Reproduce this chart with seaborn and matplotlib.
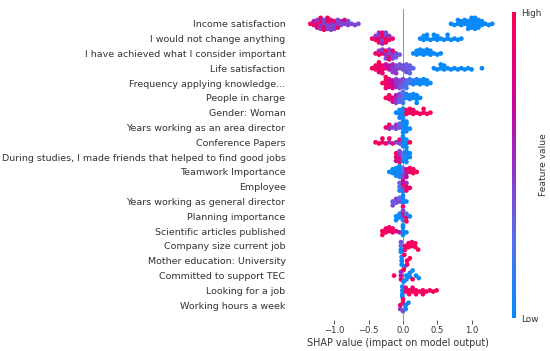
import numpy as np
import pandas as pd
import matplotlib
matplotlib.use("Agg")
import matplotlib.pyplot as plt
from matplotlib.colors import LinearSegmentedColormap, Normalize
from matplotlib.cm import ScalarMappable
import seaborn as sns

# feature names, top (most important) first
features = [
    "Income satisfaction",
    "I would not change anything",
    "I have achieved what I consider important",
    "Life satisfaction",
    "Frequency applying knowledge...",
    "People in charge",
    "Gender: Woman",
    "Years working as an area director",
    "Conference Papers",
    "During studies, I made friends that helped to find good jobs",
    "Teamwork Importance",
    "Employee",
    "Years working as general director",
    "Planning importance",
    "Scientific articles published",
    "Company size current job",
    "Mother education: University",
    "Committed to support TEC",
    "Looking for a job",
    "Working hours a week",
]

# (shap value, [feature values of the samples sitting at that shap value])
income = [
    (-1.35, [0.95]), (-1.30, [0.9, 0.6]), (-1.25, [0.95, 0.45, 0.8]),
    (-1.20, [0.5, 0.95, 0.45, 0.85]), (-1.15, [0.45, 0.9, 0.4, 0.95]),
    (-1.10, [0.4, 0.95, 0.45, 0.85]), (-1.05, [0.5, 0.4, 0.9, 0.45]),
    (-1.00, [0.4, 0.85, 0.45]), (-0.95, [0.45, 0.4, 0.9]), (-0.90, [0.4, 0.5]),
    (-0.85, [0.4, 0.8]), (-0.80, [0.45, 0.4]), (-0.75, [0.4]), (-0.70, [0.45]),
    (-0.65, [0.4]),
    (0.70, [0.02]), (0.75, [0.02]), (0.80, [0.02, 0.05]), (0.85, [0.02, 0.02]),
    (0.90, [0.02, 0.05]), (0.95, [0.02, 0.02, 0.02]), (1.00, [0.02, 0.02, 0.05, 0.02]),
    (1.05, [0.02, 0.02, 0.02, 0.02]), (1.10, [0.02, 0.05, 0.02]), (1.15, [0.02, 0.02]),
    (1.20, [0.02]), (1.25, [0.02]), (1.30, [0.02]),
]
wouldnt = [
    (-0.45, [0.9]), (-0.40, [0.95, 0.5]), (-0.35, [0.9, 0.4, 0.95, 0.5]),
    (-0.30, [0.4, 0.95, 0.5, 0.9]), (-0.25, [0.9, 0.45, 0.95, 0.4]),
    (-0.20, [0.95, 0.5]), (-0.15, [0.9]),
    (0.25, [0.02]), (0.30, [0.02, 0.02]), (0.35, [0.02, 0.02]), (0.40, [0.02]),
    (0.45, [0.02, 0.02]), (0.50, [0.02, 0.02]), (0.55, [0.02]), (0.60, [0.02]),
    (0.65, [0.02, 0.02]), (0.70, [0.02]), (0.75, [0.02]), (0.80, [0.02]),
    (0.85, [0.02]),
]
achieved = [
    (-0.40, [0.9]), (-0.35, [0.95, 0.5]), (-0.30, [0.9, 0.45]),
    (-0.25, [0.5, 0.95, 0.4]), (-0.20, [0.4, 0.9, 0.45, 0.95]),
    (-0.15, [0.45, 0.9, 0.4]), (-0.10, [0.4, 0.35]), (-0.05, [0.35]),
    (0.15, [0.02]), (0.20, [0.02, 0.02]), (0.25, [0.02, 0.05]), (0.30, [0.02, 0.02]),
    (0.35, [0.02, 0.02]), (0.40, [0.02, 0.02]), (0.45, [0.02]), (0.50, [0.02]),
    (0.55, [0.02]),
]
life = [
    (-0.45, [0.95]), (-0.40, [0.95, 0.9]), (-0.35, [0.9, 0.95, 0.85, 0.95]),
    (-0.30, [0.95, 0.9, 0.85]), (-0.25, [0.8, 0.65]), (-0.20, [0.6, 0.65]),
    (-0.15, [0.5, 0.55, 0.45]), (-0.10, [0.45, 0.4, 0.5]), (-0.05, [0.4, 0.35]),
    (0.00, [0.35, 0.4]), (0.05, [0.35, 0.3, 0.4]), (0.10, [0.3, 0.35, 0.3]),
    (0.15, [0.3]),
    (0.45, [0.02]), (0.50, [0.02]), (0.55, [0.02, 0.02]), (0.60, [0.02, 0.02]),
    (0.65, [0.02]), (0.70, [0.02]), (0.75, [0.02]), (0.80, [0.02]), (0.85, [0.02]),
    (0.90, [0.02]), (0.95, [0.02]), (1.00, [0.02]), (1.15, [0.02]),
]
freq = [
    (-0.30, [0.95]), (-0.25, [0.95, 0.9, 0.85, 0.95]), (-0.20, [0.85, 0.9, 0.8]),
    (-0.15, [0.7, 0.65, 0.75]), (-0.10, [0.5, 0.55, 0.45]), (-0.05, [0.4, 0.45, 0.35]),
    (0.00, [0.35, 0.3, 0.4]), (0.05, [0.25, 0.3, 0.2]), (0.10, [0.15, 0.2]),
    (0.15, [0.1, 0.1]), (0.20, [0.05, 0.1]), (0.25, [0.02, 0.05]),
    (0.30, [0.02, 0.02]), (0.35, [0.02, 0.02]), (0.40, [0.02]),
]
people = [
    (-0.25, [0.95]), (-0.20, [0.9, 0.95]), (-0.15, [0.85, 0.75]),
    (-0.10, [0.5, 0.6, 0.45]), (-0.05, [0.35, 0.4, 0.3]), (0.00, [0.2, 0.25, 0.15, 0.2]),
    (0.05, [0.1, 0.1]), (0.10, [0.05, 0.05]), (0.15, [0.02, 0.02]),
    (0.20, [0.02, 0.02, 0.02]), (0.25, [0.02]),
]
gender = [
    (-0.10, [0.02]), (-0.05, [0.02, 0.02, 0.05]), (0.00, [0.02, 0.02, 0.02, 0.05]),
    (0.05, [0.95, 0.9]), (0.10, [0.95, 0.95]), (0.15, [0.95, 0.9]), (0.20, [0.95]),
    (0.25, [0.95]), (0.30, [0.95, 0.95]), (0.35, [0.95]), (0.40, [0.95]),
]
area = [
    (-0.25, [0.9]), (-0.20, [0.5, 0.9]), (-0.15, [0.45]), (-0.10, [0.4, 0.5]),
    (-0.05, [0.35, 0.3]), (0.00, [0.05, 0.02, 0.02, 0.02]),
    (0.05, [0.02, 0.02, 0.02, 0.02]), (0.10, [0.02]),
]
conference = [
    (-0.40, [0.95]), (-0.35, [0.95]), (-0.30, [0.95, 0.9]), (-0.25, [0.9]),
    (-0.20, [0.5, 0.95]), (-0.15, [0.9]), (-0.10, [0.45]), (-0.05, [0.4, 0.9]),
    (0.00, [0.02, 0.02, 0.05, 0.02]), (0.05, [0.02, 0.02, 0.02]), (0.10, [0.95]),
]
studies = [
    (-0.10, [0.9, 0.65, 0.95]), (-0.05, [0.85, 0.5, 0.95, 0.4]),
    (0.00, [0.25, 0.02, 0.3]), (0.05, [0.02, 0.05, 0.02, 0.02]), (0.10, [0.02, 0.02]),
]
teamwork = [
    (-0.20, [0.02]), (-0.15, [0.02, 0.02]), (-0.10, [0.02, 0.02, 0.05]),
    (-0.05, [0.05, 0.02, 0.1, 0.02]), (0.00, [0.3, 0.4, 0.25, 0.35]),
    (0.05, [0.6, 0.75, 0.7]), (0.10, [0.9, 0.95]), (0.15, [0.95, 0.95]),
    (0.20, [0.95]),
]
employee = [
    (-0.05, [0.25, 0.05, 0.3]), (0.00, [0.4, 0.95, 0.15, 0.75]),
    (0.05, [0.95, 0.5, 0.9]), (0.10, [0.9]),
]
general = [
    (-0.15, [0.35, 0.4]), (-0.10, [0.35, 0.45]), (-0.05, [0.4, 0.3]),
    (0.00, [0.02, 0.02, 0.9, 0.02]), (0.05, [0.02]),
]
planning = [
    (-0.10, [0.02, 0.02]), (-0.05, [0.02, 0.05]), (0.00, [0.5, 0.9, 0.02, 0.4]),
    (0.05, [0.9, 0.25, 0.95]), (0.10, [0.02]),
]
scientific = [
    (-0.30, [0.95, 0.95]), (-0.25, [0.95, 0.9]), (-0.20, [0.95, 0.95]),
    (-0.15, [0.9, 0.95]), (-0.10, [0.85]), (-0.05, [0.65]),
    (0.00, [0.02, 0.02, 0.02, 0.02]), (0.05, [0.02]),
]
company = [
    (-0.03, [0.25, 0.02, 0.35, 0.02]), (0.03, [0.95, 0.9]), (0.08, [0.95, 0.95]),
    (0.13, [0.95, 0.9]), (0.18, [0.95, 0.95]), (0.22, [0.95]),
]
mother = [
    (-0.02, [0.02, 0.02, 0.05]), (0.02, [0.02, 0.95, 0.02]), (0.06, [0.95, 0.9]),
    (0.10, [0.95]),
]
tec = [
    (-0.13, [0.95]), (-0.03, [0.65, 0.9, 0.5]), (0.01, [0.02, 0.4, 0.02, 0.95]),
    (0.05, [0.02, 0.02]), (0.10, [0.02, 0.02]), (0.14, [0.95, 0.02]),
    (0.19, [0.02]), (0.23, [0.02]),
]
looking = [
    (-0.01, [0.02, 0.02, 0.02, 0.05]), (0.04, [0.95, 0.9]), (0.09, [0.95, 0.95]),
    (0.14, [0.95, 0.9]), (0.19, [0.95, 0.95]), (0.24, [0.95]), (0.29, [0.95, 0.9]),
    (0.34, [0.95]), (0.39, [0.95]), (0.44, [0.95]), (0.49, [0.95]),
]
hours = [
    (-0.04, [0.9, 0.5]), (0.00, [0.95, 0.4, 0.9]), (0.04, [0.02, 0.05]),
    (0.08, [0.02]),
]

rows = [income, wouldnt, achieved, life, freq, people, gender, area, conference,
        studies, teamwork, employee, general, planning, scientific, company,
        mother, tec, looking, hours]

# flatten to long form
records = []
for name, row in zip(features, rows):
    for shap_val, vals in row:
        for v in vals:
            records.append((name, shap_val, v))
df = pd.DataFrame(records, columns=["feature", "shap", "value"])

# shap-like red/blue colormap
red_blue = LinearSegmentedColormap.from_list(
    "red_blue",
    [(0.0, "#008bfb"), (0.25, "#5470ee"), (0.5, "#9430c8"),
     (0.7, "#cc0498"), (1.0, "#ff0052")])

axis_color = "#333333"
fig = plt.figure(figsize=(5.5, 3.51), dpi=100)
ax = fig.add_axes([298 / 550, 31 / 351, 199 / 550, 311 / 351])

ax.axvline(0, color="#999999", lw=0.8, zorder=-1)

sns.swarmplot(data=df, x="shap", y="feature", hue="value", order=features,
              palette=red_blue, hue_norm=(0, 1), size=2.6, linewidth=0,
              orient="h", legend=False, warn_thresh=1, ax=ax)

ax.set_xlim(-1.53, 1.37)
ax.set_ylim(20, -1)
ax.set_xticks([-1.0, -0.5, 0.0, 0.5, 1.0])
ax.set_xlabel("SHAP value (impact on model output)", fontsize=6.9,
              color=axis_color, labelpad=2)
ax.set_ylabel("")
for s in ["top", "right", "left", "bottom"]:
    ax.spines[s].set_visible(False)
ax.tick_params(axis="x", color=axis_color, labelcolor=axis_color,
               labelsize=6.1, length=3, width=0.6, pad=1.5)
ax.tick_params(axis="y", length=0, labelcolor=axis_color, labelsize=6.8, pad=9)

# lay the swarm out once, then freeze it and draw the dots a bit bigger
# so the swarms read as solid blobs like the shap beeswarm
fig.canvas.draw()
for coll in ax.collections:
    if "draw" in coll.__dict__:
        del coll.draw
    coll.set_sizes([3.4 ** 2])

# colorbar
cax = fig.add_axes([512 / 550, 33 / 351, 4 / 550, 306 / 351])
sm = ScalarMappable(norm=Normalize(0, 1), cmap=red_blue)
cb = fig.colorbar(sm, cax=cax, ticks=[0, 1])
cb.set_ticklabels(["Low", "High"])
cb.outline.set_visible(False)
cb.ax.tick_params(length=0, labelsize=6.4, labelcolor=axis_color, pad=4)
cb.set_label("Feature value", fontsize=6.6, color=axis_color, labelpad=-2)

fig.savefig("out.png", dpi=100)
